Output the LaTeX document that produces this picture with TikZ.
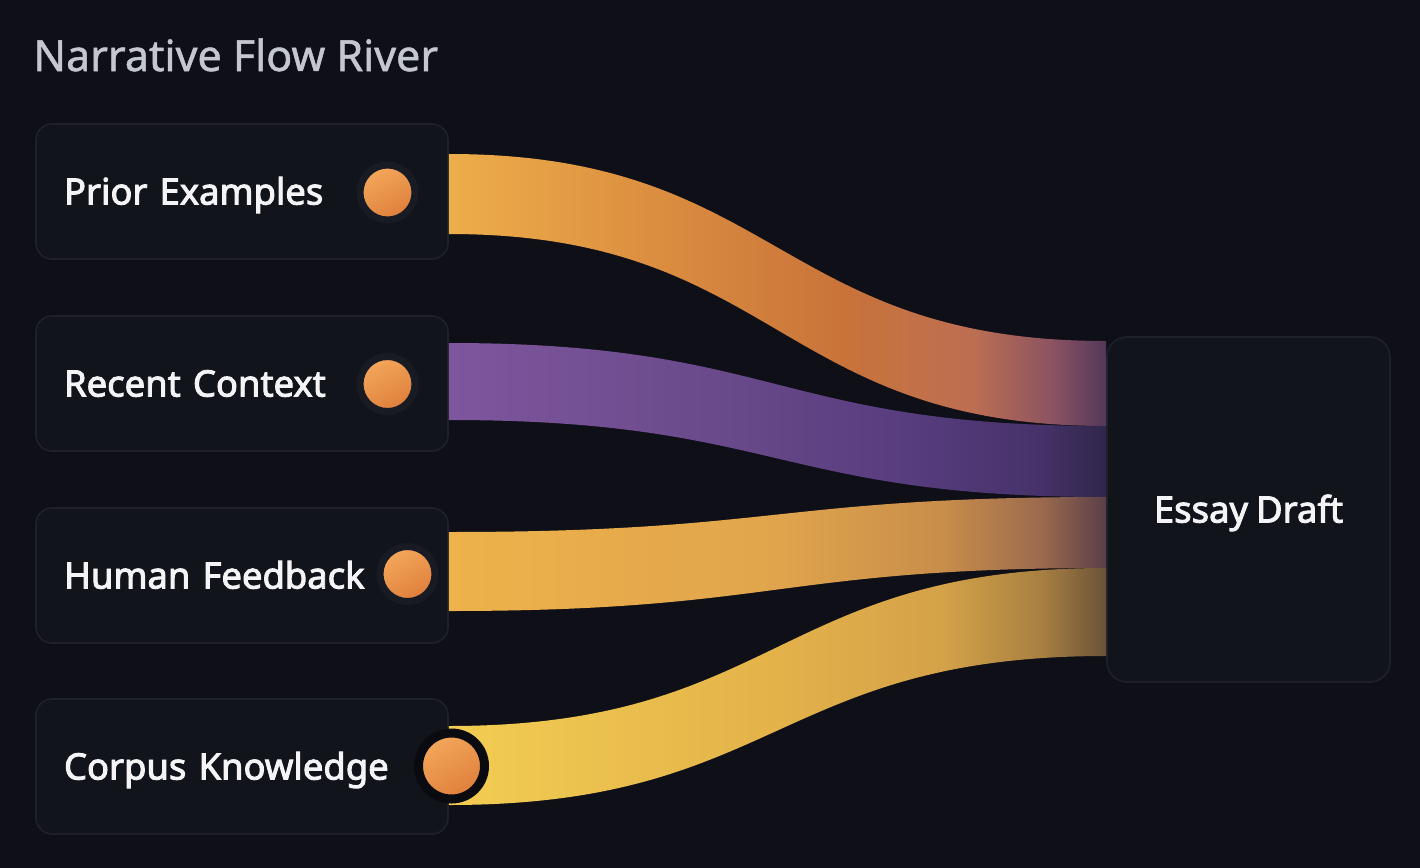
\documentclass[tikz,border=0pt]{standalone}
\usepackage{fontspec}
\setmainfont{Noto Sans}
\newfontfamily\labelfamily{Noto Sans}[FakeBold=2.6, WordSpace=0.85]
\newfontfamily\titlefamily{Noto Sans}[FakeBold=1.2]
\usepackage{tikz}
\usetikzlibrary{positioning, calc, shapes}

\definecolor{pageBg}{HTML}{0E0F17}
\definecolor{boxFill}{HTML}{12141C}
\definecolor{boxLine}{HTML}{1F212A}
\definecolor{titleGray}{HTML}{C5C7D0}
\definecolor{labelWhite}{HTML}{F4F4F6}
\definecolor{dotRing}{HTML}{191B24}
\definecolor{dotRingDark}{HTML}{0A0B11}
\definecolor{dotLight}{HTML}{F4A85C}
\definecolor{dotDark}{HTML}{DE7E3A}

\definecolor{pA}{HTML}{EDAE4A}\definecolor{pB}{HTML}{DC8F40}\definecolor{pC}{HTML}{C9733A}
\definecolor{pD}{HTML}{BC6E52}\definecolor{pE}{HTML}{8A5262}\definecolor{pF}{HTML}{523858}
\definecolor{rA}{HTML}{7E569E}\definecolor{rB}{HTML}{6A4A8A}\definecolor{rC}{HTML}{573C7E}
\definecolor{rD}{HTML}{46326A}\definecolor{rE}{HTML}{30264A}
\definecolor{hA}{HTML}{EEB24B}\definecolor{hB}{HTML}{E0A44C}\definecolor{hC}{HTML}{C88E4A}
\definecolor{hD}{HTML}{9C6A4E}\definecolor{hE}{HTML}{5A3E48}
\definecolor{cA}{HTML}{F2CD52}\definecolor{cB}{HTML}{E3B24A}\definecolor{cC}{HTML}{D4A248}
\definecolor{cD}{HTML}{A98042}\definecolor{cE}{HTML}{6A5238}

\pgfdeclarehorizontalshading{priorFlow}{100bp}{color(0bp)=(pA); color(25bp)=(pA);
  color(40bp)=(pB); color(55bp)=(pC); color(65bp)=(pD); color(71bp)=(pE);
  color(75bp)=(pF); color(100bp)=(pF)}
\pgfdeclarehorizontalshading{recentFlow}{100bp}{color(0bp)=(rA); color(25bp)=(rA);
  color(45bp)=(rB); color(60bp)=(rC); color(70bp)=(rD); color(75bp)=(rE);
  color(100bp)=(rE)}
\pgfdeclarehorizontalshading{humanFlow}{100bp}{color(0bp)=(hA); color(25bp)=(hA);
  color(50bp)=(hB); color(62.5bp)=(hC); color(70bp)=(hD); color(75bp)=(hE);
  color(100bp)=(hE)}
\pgfdeclarehorizontalshading{corpusFlow}{100bp}{color(0bp)=(cA); color(25bp)=(cA);
  color(50bp)=(cB); color(62.5bp)=(cC); color(70bp)=(cD); color(75bp)=(cE);
  color(100bp)=(cE)}

\newcommand{\labelsize}{\labelfamily\fontsize{18.2pt}{22pt}\selectfont}
\newcommand{\titlesize}{\titlefamily\fontsize{21.5pt}{26pt}\selectfont}

\tikzset{
  sourcebox/.style={draw=boxLine, line width=0.8pt, fill=boxFill, rounded corners=8pt,
    minimum width=206pt, minimum height=67.5pt, inner xsep=14pt, text width=178pt,
    align=left, text height=13pt, text depth=0pt, text=labelWhite, font=\labelsize},
  targetbox/.style={draw=boxLine, line width=0.8pt, fill=boxFill, rounded corners=10pt,
    minimum width=141.5pt, minimum height=172.5pt, text height=13pt, text depth=0pt,
    text=labelWhite, font=\labelsize},
  flowdot/.style={circle, draw=dotRing, line width=3.5pt, minimum size=27.5pt,
    inner sep=0pt, top color=dotLight, bottom color=dotDark, shading angle=30},
  bigdot/.style={flowdot, draw=dotRingDark, line width=4.5pt, minimum size=33pt}
}

\begin{document}
\begin{tikzpicture}[x=0.5pt, y=-0.5pt]
		
		\fill[pageBg] (0,0) rectangle (1420,868);
		\useasboundingbox (0,0) rectangle (1420,868);
		
		%Title
		\node (title) at (33,71) [anchor=base west, inner sep=0pt, text=titleGray,
		font=\titlesize]{Narrative Flow River};
		
		%Source nodes on the left
		\node (priorBox) at (242,191.5) [sourcebox]{Prior Examples};
		
		\node (recentBox) at (242,383.5) [sourcebox]{Recent Context};
		
		\node (humanBox) at (242,575.5) [sourcebox]{Human Feedback};
		
		\node (corpusBox) at (242,766.5) [sourcebox]{Corpus Knowledge};
		
		%Target node
		\node (essayBox) at (1248.5,509.5) [targetbox]{Essay Draft};
		
		%Links (ribbons) from the sources to the draft
		\shade[shading=priorFlow] ($(priorBox.east)+(0,-37.5)$) .. controls +(329,0) and
		+(-329,0) .. ($(essayBox.west)+(0,-168.5)$) -- ($(essayBox.west)+(0,-83.5)$)
		.. controls +(-329,0) and +(329,0) .. ($(priorBox.east)+(0,42.5)$) -- cycle;
		
		\shade[shading=recentFlow] ($(recentBox.east)+(0,-40.5)$) .. controls +(329,0) and
		+(-329,0) .. ($(essayBox.west)+(0,-83.5)$) -- ($(essayBox.west)+(0,-12.5)$)
		.. controls +(-329,0) and +(329,0) .. ($(recentBox.east)+(0,36.5)$) -- cycle;
		
		\shade[shading=humanFlow] ($(humanBox.east)+(0,-43.5)$) .. controls +(329,0) and
		+(-329,0) .. ($(essayBox.west)+(0,-12.5)$) -- ($(essayBox.west)+(0,58.5)$)
		.. controls +(-329,0) and +(329,0) .. ($(humanBox.east)+(0,35.5)$) -- cycle;
		
		\shade[shading=corpusFlow] ($(corpusBox.east)+(0,-40.5)$) .. controls +(329,0) and
		+(-329,0) .. ($(essayBox.west)+(0,58.5)$) -- ($(essayBox.west)+(0,146.5)$)
		.. controls +(-329,0) and +(329,0) .. ($(corpusBox.east)+(0,38.5)$) -- cycle;
		
		%Dots on the sources
		\node (priorDot) at (387.5,192.5) [flowdot]{};
		
		\node (recentDot) at (387.5,384) [flowdot]{};
		
		\node (humanDot) at (407.5,574) [flowdot]{};
		
		\node (corpusDot) at (451.5,766) [bigdot]{};
		
\end{tikzpicture}
\end{document}
